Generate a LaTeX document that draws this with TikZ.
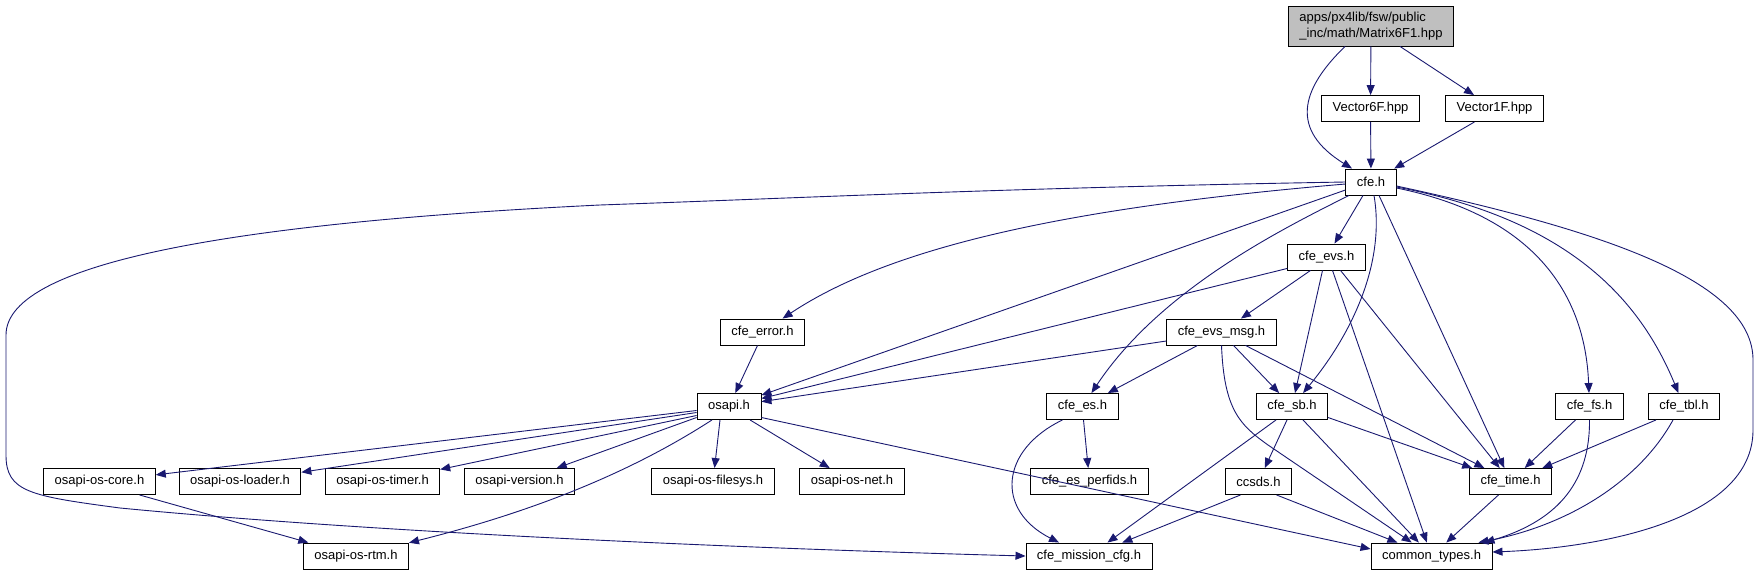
\documentclass[tikz,border=0pt]{standalone}
\usepackage{fontspec}
\setmainfont{Liberation Sans}
\usetikzlibrary{arrows.meta}
\definecolor{incblue}{HTML}{191970}
\definecolor{rootgray}{HTML}{BFBFBF}

\begin{document}
\begin{tikzpicture}[
  x=1pt, y=-1pt,
  header/.style={draw, line width=0.9pt, fill=white, minimum height=26pt, inner xsep=11pt, inner ysep=0pt, font=\fontsize{13}{16}\selectfont},
  mainfile/.style={header, fill=rootgray, minimum height=40pt, align=left},
  inc/.style={->, >={Triangle[length=10pt,width=8pt]}, incblue, line width=0.9pt}
]
\useasboundingbox (0,0) rectangle (1763,575);

% Top: the file itself and its direct includes
\node[mainfile] (matrix6f1) at (1371,26) {apps/px4lib/fsw/public\\\_inc/math/Matrix6F1.hpp};
\node[header] (vector6f) at (1370.5,108.5) {Vector6F.hpp};
\node[header] (vector1f) at (1494.5,108.5) {Vector1F.hpp};
\node[header] (cfe) at (1371,182) {cfe.h};
\node[header] (cfe-evs) at (1326.5,257) {cfe\_evs.h};
\node[header] (cfe-error) at (762.5,332) {cfe\_error.h};
\node[header] (cfe-evs-msg) at (1221.5,332) {cfe\_evs\_msg.h};

% Middle row
\node[header] (osapi) at (729,406.5) {osapi.h};
\node[header] (cfe-es) at (1082.5,406.5) {cfe\_es.h};
\node[header] (cfe-sb) at (1292,406.5) {cfe\_sb.h};
\node[header] (cfe-fs) at (1589.5,406.5) {cfe\_fs.h};
\node[header] (cfe-tbl) at (1684,406.5) {cfe\_tbl.h};

% OSAL headers and leaves
\node[header] (os-core) at (99.5,481.5) {osapi-os-core.h};
\node[header] (os-loader) at (240,481.5) {osapi-os-loader.h};
\node[header] (os-timer) at (382.5,481.5) {osapi-os-timer.h};
\node[header] (os-version) at (519.5,481.5) {osapi-version.h};
\node[header] (os-filesys) at (713,481.5) {osapi-os-filesys.h};
\node[header] (os-net) at (852,481.5) {osapi-os-net.h};
\node[header] (es-perfids) at (1089.5,481.5) {cfe\_es\_perfids.h};
\node[header] (ccsds) at (1258.5,481.5) {ccsds.h};
\node[header] (cfe-time) at (1510.5,481.5) {cfe\_time.h};
\node[header] (os-rtm) at (356,556) {osapi-os-rtm.h};
\node[header] (mission-cfg) at (1089,556) {cfe\_mission\_cfg.h};
\node[header] (common-types) at (1431.5,556) {common\_types.h};

% Matrix6F1.hpp
\draw[inc] ([xshift=-26]matrix6f1.south) .. controls (1300,90) and (1290,130) .. ([xshift=-19]cfe.north);
\draw[inc] (matrix6f1) -- (vector6f);
\draw[inc] ([xshift=29]matrix6f1.south) -- (vector1f);
\draw[inc] (vector6f) -- (cfe);
\draw[inc] ([xshift=-20]vector1f.south) -- (cfe);

% cfe.h
\draw[inc] (cfe.west) .. controls (1000,188) and (800,198) .. (600,205)
  .. controls (250,222) and (6,260) .. (6,335) -- (6,455)
  .. controls (6,492) and (30,496) .. (120,508)
  .. controls (400,535) and (800,550) .. (mission-cfg.west);
\draw[inc] ([yshift=-2]cfe.west) .. controls (1100,205) and (900,240) .. (cfe-error);
\draw[inc] ([yshift=-8]cfe.west) -- (osapi);
\draw[inc] ([xshift=-22]cfe.south) .. controls (1280,230) and (1160,290) .. (cfe-es);
\draw[inc] ([xshift=-8]cfe.south) -- (cfe-evs);
\draw[inc] ([xshift=3]cfe.south) .. controls (1385,260) and (1355,330) .. (cfe-sb);
\draw[inc] ([xshift=8]cfe.south) -- (cfe-time);
\draw[inc] ([yshift=-6]cfe.east) .. controls (1530,215) and (1585,290) .. (cfe-fs);
\draw[inc] ([yshift=-5]cfe.east) .. controls (1570,220) and (1640,300) .. (cfe-tbl);
\draw[inc] ([yshift=-4]cfe.east) .. controls (1600,230) and (1753,280) .. (1753,360) -- (1753,430)
  .. controls (1753,520) and (1600,548) .. ([yshift=4]common-types.east);

% cfe_evs.h
\draw[inc] ([yshift=2]cfe-evs.south west) -- (osapi);
\draw[inc] ([xshift=-16]cfe-evs.south) -- (cfe-evs-msg);
\draw[inc] ([xshift=-4]cfe-evs.south) -- (cfe-sb);
\draw[inc] ([xshift=6]cfe-evs.south) -- (common-types);
\draw[inc] ([xshift=14]cfe-evs.south) -- (cfe-time);

% cfe_error.h
\draw[inc] ([xshift=-5]cfe-error.south) -- (osapi);

% cfe_evs_msg.h
\draw[inc] ([yshift=-9]cfe-evs-msg.west) -- (osapi);
\draw[inc] ([xshift=-24]cfe-evs-msg.south) -- (cfe-es);
\draw[inc] ([xshift=12]cfe-evs-msg.south) -- (cfe-sb);
\draw[inc] (cfe-evs-msg.south) .. controls (1224,410) and (1240,425) .. (1268,445) -- (common-types);
\draw[inc] ([xshift=24]cfe-evs-msg.south) -- (cfe-time);

% osapi.h
\draw[inc] ([yshift=-4]osapi.west) -- (os-core);
\draw[inc] ([yshift=-6]osapi.west) -- (os-loader);
\draw[inc] ([yshift=-9]osapi.west) -- (os-timer);
\draw[inc] ([yshift=-11]osapi.west) -- (os-version);
\draw[inc] ([xshift=-9]osapi.south) -- (os-filesys);
\draw[inc] ([xshift=21]osapi.south) -- (os-net);
\draw[inc] ([xshift=-17]osapi.south) .. controls (650,460) and (560,505) .. (os-rtm);
\draw[inc] ([yshift=-11]osapi.east) -- ([yshift=7]common-types.west);

% cfe_es.h
\draw[inc] ([xshift=1]cfe-es.south) -- (es-perfids);
\draw[inc] ([xshift=-20]cfe-es.south) .. controls (1000,450) and (995,510) .. ([xshift=-30]mission-cfg.north);

% cfe_sb.h
\draw[inc] ([xshift=-16]cfe-sb.south) -- (mission-cfg);
\draw[inc] ([xshift=-5]cfe-sb.south) -- (ccsds);
\draw[inc] ([xshift=11]cfe-sb.south) -- (common-types);
\draw[inc] ([yshift=-11]cfe-sb.east) -- (cfe-time);

% lower level
\draw[inc] ([xshift=40]os-core.south) -- (os-rtm);
\draw[inc] ([xshift=-18]ccsds.south) -- (mission-cfg);
\draw[inc] ([xshift=18]ccsds.south) -- (common-types);
\draw[inc] ([xshift=-12]cfe-time.south) -- (common-types);
\draw[inc] ([xshift=-14]cfe-fs.south) -- (cfe-time);
\draw[inc] (cfe-fs.south) .. controls (1590,480) and (1560,520) .. ([xshift=-8]common-types.north east);
\draw[inc] ([xshift=-28]cfe-tbl.south) -- (cfe-time);
\draw[inc] ([xshift=-11]cfe-tbl.south) .. controls (1640,480) and (1570,525) .. ([xshift=-14]common-types.north east);
\end{tikzpicture}
\end{document}
